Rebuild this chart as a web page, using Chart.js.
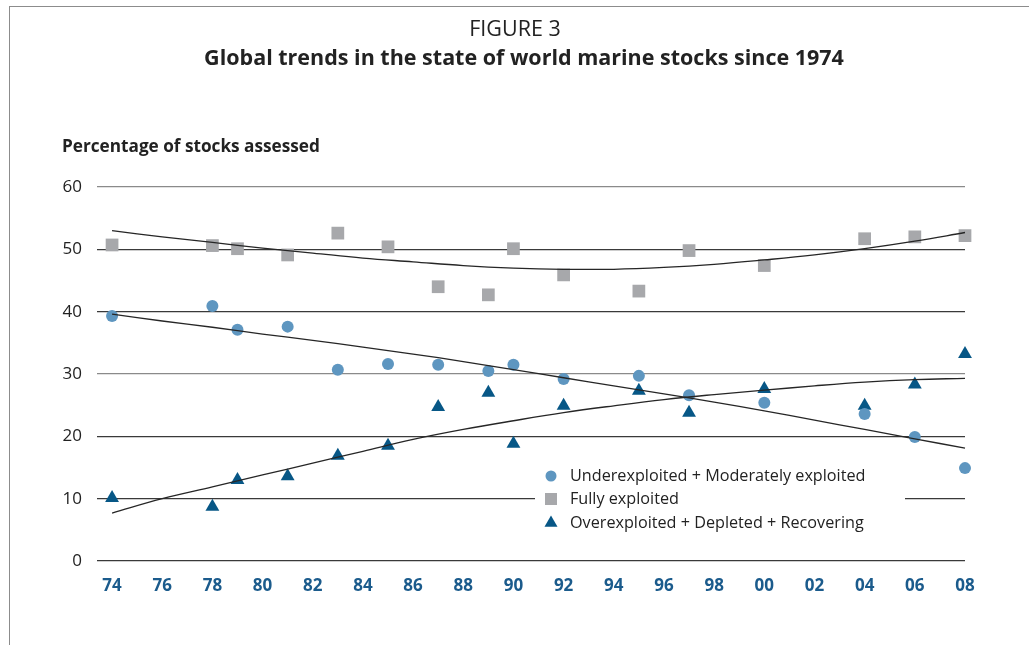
<!DOCTYPE html>
<html>
<head>
<meta charset="utf-8">
<script src="https://cdn.jsdelivr.net/npm/chart.js@4.4.1/dist/chart.umd.min.js"></script>
<style>
  html, body { margin: 0; padding: 0; background: #fff; }
  #wrap { position: relative; width: 1029px; height: 645px; overflow: hidden; }
  #frame { position: absolute; left: 9px; top: 6px; width: 1040px; height: 660px;
           border-top: 1px solid #8c8c8c; border-left: 1px solid #8c8c8c; }
  canvas { position: absolute; left: 0; top: 0; }
</style>
</head>
<body>
<div id="wrap">
  <div id="frame"></div>
  <canvas id="chart" width="1029" height="645"></canvas>
</div>
<script>
// survey years and shares of assessed stocks (%)
const years = [1974, 1978, 1979, 1981, 1983, 1985, 1987, 1989, 1990, 1992, 1995, 1997, 2000, 2004, 2006, 2008];
const underexploited = [39.3, 40.9, 37.1, 37.6, 30.7, 31.6, 31.5, 30.5, 31.5, 29.2, 29.7, 26.6, 25.4, 23.6, 19.9, 14.9];
const fullyExploited = [50.7, 50.6, 50.1, 49.1, 52.6, 50.4, 44.0, 42.7, 50.1, 45.9, 43.3, 49.8, 47.4, 51.7, 52.0, 52.2];
const overexploited = [10.1, 8.7, 13.0, 13.6, 16.9, 18.5, 24.7, 27.0, 18.8, 24.9, 27.3, 23.8, 27.6, 24.9, 28.3, 33.2];

// trend curves
const trendYears = [1974, 1976, 1978, 1980, 1982, 1984, 1986, 1988, 1990, 1992, 1994, 1996, 1998, 2000, 2002, 2004, 2006, 2008];
const underTrend = [39.6, 38.5, 37.5, 36.4, 35.4, 34.3, 33.2, 32.0, 30.7, 29.4, 28.1, 26.8, 25.5, 24.1, 22.6, 21.1, 19.6, 18.1];
const fullyTrend = [53.0, 52.0, 51.1, 50.2, 49.4, 48.6, 48.0, 47.4, 47.0, 46.8, 46.8, 47.1, 47.6, 48.3, 49.1, 50.1, 51.3, 52.7];
const overTrend = [7.7, 10.0, 11.9, 13.8, 15.7, 17.6, 19.5, 21.1, 22.5, 23.8, 24.9, 25.9, 26.7, 27.4, 28.1, 28.7, 29.1, 29.3];

const tickYears = [1974, 1976, 1978, 1980, 1982, 1984, 1986, 1988, 1990, 1992, 1994, 1996, 1998, 2000, 2002, 2004, 2006, 2008];
const tickLabels = ['74', '76', '78', '80', '82', '84', '86', '88', '90', '92', '94', '96', '98', '00', '02', '04', '06', '08'];
const yTicks = [0, 10, 20, 30, 40, 50, 60];

const seriesNames = ['Underexploited + Moderately exploited', 'Fully exploited', 'Overexploited + Depleted + Recovering'];
const COL_UNDER = '#5e96c0';
const COL_FULLY = '#a7a8ab';
const COL_OVER = '#075786';
const FONT = '"Open Sans", "Noto Sans", sans-serif';

const pts = (xs, ys) => xs.map((x, i) => ({ x: x, y: ys[i] }));

function trend(values) {
  return {
    data: pts(trendYears, values),
    showLine: true,
    borderColor: '#262626',
    borderWidth: 1.3,
    pointRadius: 0,
    tension: 0.4,
    clip: false,
    order: 0
  };
}

function marks(values, color, style, radius) {
  return {
    data: pts(years, values),
    showLine: false,
    backgroundColor: color,
    borderWidth: 0,
    pointStyle: style,
    pointRadius: radius,
    clip: false,
    order: 1
  };
}

const datasets = [
  marks(fullyExploited, COL_FULLY, 'rect', 9),
  marks(underexploited, COL_UNDER, 'circle', 6),
  marks(overexploited, COL_OVER, 'triangle', 8),
  trend(fullyTrend),
  trend(underTrend),
  trend(overTrend)
];

const decor = {
  id: 'decor',
  afterDraw(chart) {
    const ctx = chart.ctx;
    ctx.save();
    ctx.fillStyle = '#222';
    ctx.textBaseline = 'middle';
    ctx.textAlign = 'center';
    ctx.font = '21.5px ' + FONT;
    ctx.fillText('FIGURE 3', 515, 30);
    ctx.font = 'bold 21.5px ' + FONT;
    ctx.fillText('Global trends in the state of world marine stocks since 1974', 524, 59);
    ctx.textAlign = 'left';
    ctx.font = 'bold 17.2px ' + FONT;
    ctx.fillText('Percentage of stocks assessed', 62, 147);

    // legend box over the 10% gridline
    ctx.fillStyle = '#fff';
    ctx.fillRect(535, 462, 370, 74);
    const rows = [476, 499, 523];
    const shapes = [
      { style: 'circle', radius: 5.5, color: COL_UNDER },
      { style: 'rect', radius: 8.5, color: COL_FULLY },
      { style: 'triangle', radius: 7.5, color: COL_OVER }
    ];
    ctx.font = '16.2px ' + FONT;
    rows.forEach((y, i) => {
      ctx.fillStyle = shapes[i].color;
      Chart.helpers.drawPoint(ctx, { pointStyle: shapes[i].style, radius: shapes[i].radius, rotation: 0, borderWidth: 0 }, 551, y);
      ctx.fillStyle = '#222';
      ctx.fillText(seriesNames[i], 570, y);
    });
    ctx.restore();
  }
};

new Chart(document.getElementById('chart'), {
  type: 'scatter',
  data: { datasets: datasets },
  options: {
    responsive: false,
    animation: false,
    layout: { padding: { left: 0, top: 187, right: 64, bottom: 44 } },
    plugins: { legend: { display: false }, tooltip: { enabled: false }, title: { display: false } },
    scales: {
      x: {
        type: 'linear',
        min: 1973.4,
        max: 2008,
        afterBuildTicks: s => { s.ticks = tickYears.map(v => ({ value: v })); },
        afterFit: s => { s.height = 40; },
        grid: { display: false, drawTicks: false },
        border: { display: false },
        ticks: {
          autoSkip: false,
          maxRotation: 0,
          padding: 15,
          color: '#1b5b8c',
          font: { family: FONT, size: 17, weight: 'bold' },
          callback: (v, i) => tickLabels[i]
        }
      },
      y: {
        min: 0,
        max: 60,
        afterBuildTicks: s => { s.ticks = yTicks.map(v => ({ value: v })); },
        afterFit: s => { s.width = 97; },
        grid: {
          drawTicks: false,
          lineWidth: 1.2,
          color: c => (c.tick && (c.tick.value === 60 || c.tick.value === 30)) ? '#8a8a8a' : '#3a3a3a'
        },
        border: { display: false },
        ticks: {
          padding: 15,
          color: '#222',
          font: { family: FONT, size: 17 }
        }
      }
    }
  },
  plugins: [decor]
});
</script>
</body>
</html>
